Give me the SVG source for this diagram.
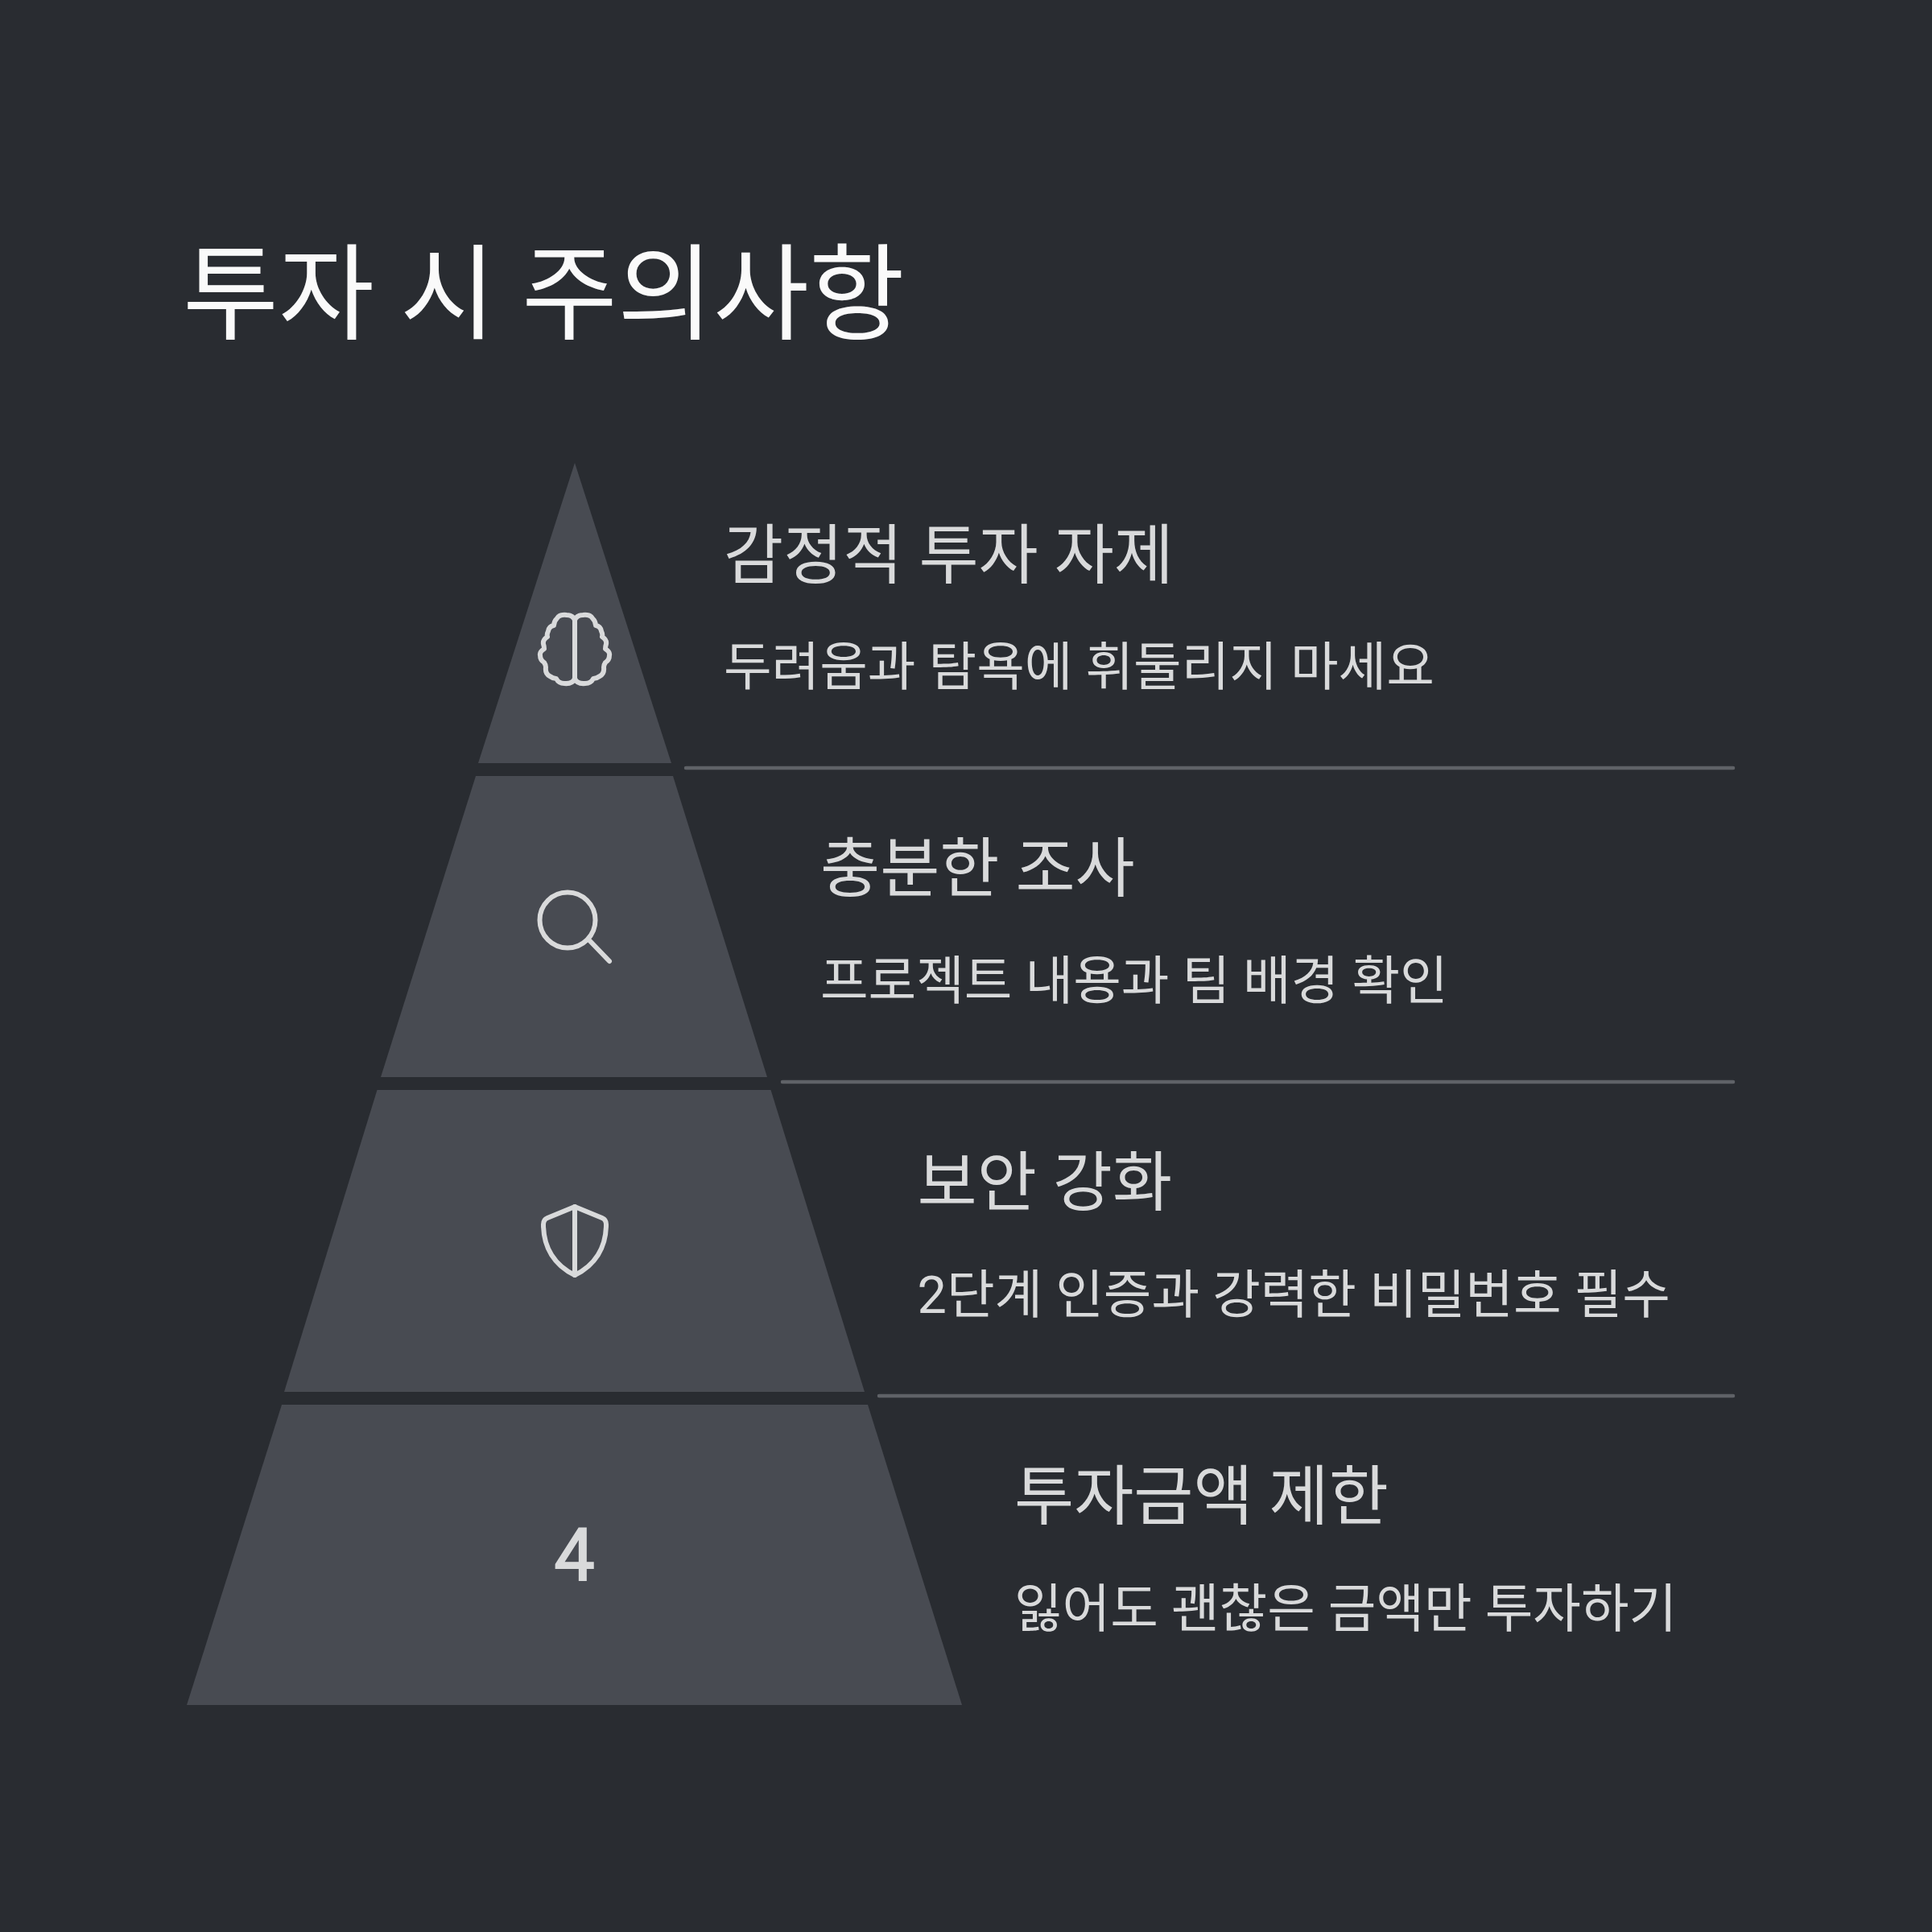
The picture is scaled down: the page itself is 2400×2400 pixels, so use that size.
<svg xmlns="http://www.w3.org/2000/svg" xmlns:xlink="http://www.w3.org/1999/xlink" width="2400" height="2400" viewBox="0 0 2400 2400">
<style>
text{font-family:Roboto,"Noto Sans CJK KR",sans-serif}
.title{font-size:129.300px;fill:#fafafa}
.h{font-size:80.600px;fill:#d9dadb}
.d{font-size:64.800px;fill:#d9dadb}
.tier{fill:#484b52}
.ic{fill:none;stroke:#d9dadb;stroke-width:6;stroke-linecap:round;stroke-linejoin:round}
.sep{stroke:#5f6267;stroke-width:4.500;stroke-linecap:round}
</style>
<defs>
<path id="half" d="M0 770Q3 764 10 764Q19 763 22 768Q26 772 26 777Q32 778 33 784Q35 788 34 791Q40 795 39 800Q38 803 38 806Q44 810 43 814Q43 820 38 823Q36 826 36 829Q37 837 31 840Q27 843 23 843Q20 849 13 849Q3 850 0 843"/>
</defs>
<rect width="2400" height="2400" fill="#292c31"/>
<text class="title" x="227" y="411">투자 시 주의사항</text>
<g id="connectors">
<line class="sep" x1="852" y1="954" x2="2153" y2="954"/>
<line class="sep" x1="972" y1="1344" x2="2153" y2="1344"/>
<line class="sep" x1="1092" y1="1734" x2="2153" y2="1734"/>
</g>
<g id="tier-1">
<polygon class="tier" points="714,575 834,948 594,948"/>
<g class="ic"><use href="#half" transform="translate(714 0)"/><use href="#half" transform="translate(714 0) scale(-1 1)"/><line x1="714" y1="770" x2="714" y2="843"/></g>
<text class="h" x="899" y="718">감정적 투자 자제</text>
<text class="d" x="899" y="851">두려움과 탐욕에 휘둘리지 마세요</text>
</g>
<g id="tier-2">
<polygon class="tier" points="591,964 836,964 953,1338 473,1338"/>
<g class="ic"><circle cx="705" cy="1143" r="34.500"/><line x1="732" y1="1168" x2="757" y2="1194"/></g>
<text class="h" x="1019" y="1107">충분한 조사</text>
<text class="d" x="1019" y="1241">프로젝트 내용과 팀 배경 확인</text>
</g>
<g id="tier-3">
<polygon class="tier" points="468.500,1354 957.500,1354 1074,1729 353,1729"/>
<g class="ic"><path d="M714 1499L748 1513Q753 1515 753 1521C753 1550 739 1572 714 1584C689 1572 675 1550 675 1521Q675 1515 680 1513Z"/><line x1="714" y1="1499" x2="714" y2="1584"/></g>
<text class="h" x="1139.500" y="1497">보안 강화</text>
<text class="d" x="1139.500" y="1631">2단계 인증과 강력한 비밀번호 필수</text>
</g>
<g id="tier-4">
<polygon class="tier" points="350,1745 1078,1745 1195,2118 232,2118"/>
<text x="713.500" y="1963" text-anchor="middle" font-size="90" font-weight="400" stroke="#d9dadb" stroke-width="1.800" fill="#d9dadb">4</text>
<text class="h" x="1260" y="1887">투자금액 제한</text>
<text class="d" x="1260" y="2021">잃어도 괜찮은 금액만 투자하기</text>
</g>
</svg>
